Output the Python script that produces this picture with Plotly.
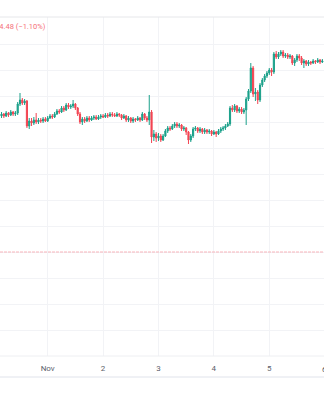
import pandas as pd
import plotly.graph_objects as go

# Hourly candles, Oct 31 04:00 -> Nov 5 23:00
start_time = "2023-10-31 04:00"
n_candles = 140

open_ = [413.6, 413.8, 413.6, 413.9, 413.7, 414.0, 413.8, 413.9, 414.8, 415.2,
         414.9, 415.1, 412.6, 413.1, 412.9, 413.2, 413.0, 413.2, 413.1, 413.3,
         413.1, 413.4, 413.6, 413.5, 413.8, 414.1, 414.0, 414.4, 414.2, 414.7,
         414.5, 414.6, 414.8, 414.4, 413.8, 413.0, 413.3, 413.1, 413.4, 413.2,
         413.4, 413.5, 413.3, 413.5, 413.6, 413.5, 413.7, 413.6, 413.8, 413.7,
         413.6, 413.8, 413.7, 413.4, 413.6, 413.2, 413.4, 413.1, 413.3, 413.2,
         413.4, 413.2, 413.8, 413.4, 413.2, 414.0, 411.5, 411.8, 411.4, 411.6,
         411.2, 411.6, 412.1, 412.4, 412.3, 412.6, 412.8, 412.6, 412.7, 412.3,
         412.4, 412.0, 411.2, 411.6, 412.3, 412.4, 412.1, 412.3, 412.0, 412.2,
         412.0, 412.1, 411.8, 412.0, 411.8, 412.1, 412.3, 412.4, 412.6, 412.8,
         414.4, 414.2, 414.6, 414.1, 414.3, 414.0, 414.2, 415.3, 416.1, 418.4,
         415.8, 416.0, 415.2, 416.7, 417.2, 417.6, 417.9, 418.2, 418.0, 419.8,
         419.5, 419.8, 420.0, 419.6, 419.7, 419.5, 419.6, 418.9, 419.2, 419.6,
         419.4, 418.9, 419.1, 418.8, 419.0, 418.9, 419.1, 419.0, 419.2, 419.0]

high = [414.0, 413.9, 414.1, 414.0, 414.2, 414.1, 414.1, 415.0, 415.9, 415.4,
        415.3, 415.2, 413.4, 413.4, 413.5, 413.9, 413.4, 413.4, 413.5, 413.5,
        413.6, 413.8, 413.8, 414.0, 414.3, 414.3, 414.6, 414.6, 414.9, 414.9,
        414.8, 415.2, 414.9, 414.5, 414.0, 413.5, 413.5, 413.6, 413.6, 413.6,
        413.7, 413.7, 413.7, 413.8, 413.8, 413.9, 413.9, 414.0, 414.0, 413.9,
        414.0, 413.9, 413.8, 413.8, 413.7, 413.6, 413.5, 413.5, 413.4, 413.6,
        413.5, 414.0, 413.9, 413.6, 415.7, 414.2, 412.2, 412.0, 411.9, 411.8,
        411.8, 412.3, 412.6, 412.6, 412.8, 413.0, 413.0, 412.9, 412.8, 412.6,
        412.5, 412.1, 411.8, 412.5, 412.6, 412.5, 412.5, 412.4, 412.4, 412.3,
        412.3, 412.2, 412.2, 412.1, 412.3, 412.5, 412.6, 412.8, 413.0, 414.6,
        414.7, 414.8, 414.7, 414.5, 414.5, 414.4, 415.5, 416.3, 418.9, 418.6,
        416.4, 416.2, 416.9, 417.4, 417.8, 418.1, 418.4, 418.4, 420.0, 420.1,
        420.0, 420.2, 420.2, 419.9, 419.9, 419.8, 419.7, 419.4, 419.8, 419.8,
        419.6, 419.3, 419.2, 419.2, 419.1, 419.3, 419.2, 419.4, 419.3, 419.3]

low = [413.4, 413.4, 413.5, 413.5, 413.6, 413.6, 413.6, 413.7, 414.6, 414.7,
       414.7, 412.4, 412.3, 412.6, 412.7, 412.8, 412.8, 412.9, 412.9, 413.0,
       413.0, 413.3, 413.3, 413.4, 413.7, 413.8, 413.9, 414.0, 414.1, 414.3,
       414.3, 414.4, 414.2, 413.6, 412.8, 412.7, 412.9, 413.0, 413.0, 413.1,
       413.2, 413.2, 413.2, 413.3, 413.4, 413.4, 413.4, 413.5, 413.5, 413.5,
       413.5, 413.5, 413.2, 413.3, 413.0, 413.0, 412.9, 412.9, 413.0, 413.1,
       413.0, 413.1, 413.2, 413.0, 412.7, 410.9, 411.1, 411.0, 411.1, 411.0,
       411.1, 411.5, 411.9, 412.1, 412.2, 412.4, 412.4, 412.4, 412.1, 412.1,
       411.7, 410.8, 411.0, 411.4, 412.1, 411.9, 411.9, 411.8, 411.8, 411.8,
       411.8, 411.6, 411.7, 411.5, 411.7, 411.9, 412.1, 412.2, 412.5, 412.6,
       414.0, 414.0, 413.9, 413.9, 413.8, 413.8, 412.7, 415.1, 415.9, 415.5,
       415.1, 414.8, 415.0, 416.5, 417.0, 417.4, 417.7, 417.6, 417.8, 419.3,
       419.3, 419.6, 419.4, 419.4, 419.3, 419.3, 418.7, 418.6, 419.0, 419.1,
       418.7, 418.4, 418.6, 418.6, 418.7, 418.8, 418.8, 418.9, 418.8, 418.9]

close = [413.8, 413.6, 413.9, 413.7, 414.0, 413.8, 413.9, 414.8, 415.2, 414.9,
         415.1, 412.6, 413.1, 412.9, 413.2, 413.0, 413.2, 413.1, 413.3, 413.1,
         413.4, 413.6, 413.5, 413.8, 414.1, 414.0, 414.4, 414.2, 414.7, 414.5,
         414.6, 414.8, 414.4, 413.8, 413.0, 413.3, 413.1, 413.4, 413.2, 413.4,
         413.5, 413.3, 413.5, 413.6, 413.5, 413.7, 413.6, 413.8, 413.7, 413.6,
         413.8, 413.7, 413.4, 413.6, 413.2, 413.4, 413.1, 413.3, 413.2, 413.4,
         413.2, 413.8, 413.4, 413.2, 414.0, 411.5, 411.8, 411.4, 411.6, 411.2,
         411.6, 412.1, 412.4, 412.3, 412.6, 412.8, 412.6, 412.7, 412.3, 412.4,
         412.0, 411.2, 411.6, 412.3, 412.4, 412.1, 412.3, 412.0, 412.2, 412.0,
         412.1, 411.8, 412.0, 411.8, 412.1, 412.3, 412.4, 412.6, 412.8, 414.4,
         414.2, 414.6, 414.1, 414.3, 414.0, 414.2, 415.3, 416.1, 418.4, 415.8,
         416.0, 415.2, 416.7, 417.2, 417.6, 417.9, 418.2, 418.0, 419.8, 419.5,
         419.8, 420.0, 419.6, 419.7, 419.5, 419.6, 418.9, 419.2, 419.6, 419.4,
         418.9, 419.1, 418.8, 419.0, 418.9, 419.1, 419.0, 419.2, 419.0, 419.1]

tick_dates = ["2023-11-01", "2023-11-02", "2023-11-03", "2023-11-04", "2023-11-05"]
tick_labels = ["Nov", "2", "3", "4", "5"]
ref_level = 400.0
header_text = "−4.48 (−1.10%)"

times = pd.date_range(start_time, periods=n_candles, freq="h")

fig = go.Figure(go.Candlestick(
    x=times, open=open_, high=high, low=low, close=close,
    increasing=dict(line=dict(color="#089981", width=1), fillcolor="#089981"),
    decreasing=dict(line=dict(color="#f23645", width=1), fillcolor="#f23645"),
    whiskerwidth=0, showlegend=False, hoverinfo="skip", opacity=0.92,
))

grid = "#f2f3f6"
fig.update_layout(
    width=324, height=400,
    margin=dict(l=0, r=0, t=17, b=44),
    paper_bgcolor="white", plot_bgcolor="white",
    font=dict(family="Roboto, sans-serif"),
    xaxis=dict(
        type="date", range=["2023-10-31 03:20", "2023-11-05 23:43"],
        tickvals=tick_dates, ticktext=tick_labels,
        showgrid=True, gridcolor=grid, gridwidth=1,
        zeroline=False, showline=False, ticks="",
        tickfont=dict(size=8, color="#5d616b"),
        ticklabelstandoff=6,
        rangeslider=dict(visible=False), fixedrange=True,
    ),
    yaxis=dict(
        range=[389.6, 423.5], tick0=400, dtick=2.6,
        showgrid=True, gridcolor=grid, gridwidth=1,
        zeroline=False, showline=False, showticklabels=False, ticks="",
        fixedrange=True,
    ),
    shapes=[
        dict(type="line", xref="paper", yref="y", x0=0, x1=1, y0=ref_level, y1=ref_level,
             line=dict(color="#f8b4ba", width=1, dash="3px,1px")),
        dict(type="line", xref="paper", yref="paper", x0=0, x1=1, y0=1, y1=1,
             line=dict(color="#e6e7ea", width=1)),
        dict(type="line", xref="paper", yref="paper", x0=0, x1=1, y0=0, y1=0,
             line=dict(color="#eeeff2", width=1)),
        dict(type="line", xref="paper", yref="paper", x0=0, x1=1, y0=-21/339, y1=-21/339,
             line=dict(color="#e0e3eb", width=1)),
    ],
    annotations=[
        dict(text=header_text, xref="paper", yref="paper", x=48/324, y=1 - 10/339,
             xanchor="right", yanchor="middle", showarrow=False,
             font=dict(size=7.5, color="#f5707a")),
        dict(text="6", xref="paper", yref="paper", x=324.7/324, y=-13/339,
             xanchor="center", yanchor="middle", showarrow=False,
             font=dict(size=8, color="#5d616b")),
    ],
)

fig.write_html("out.html")
